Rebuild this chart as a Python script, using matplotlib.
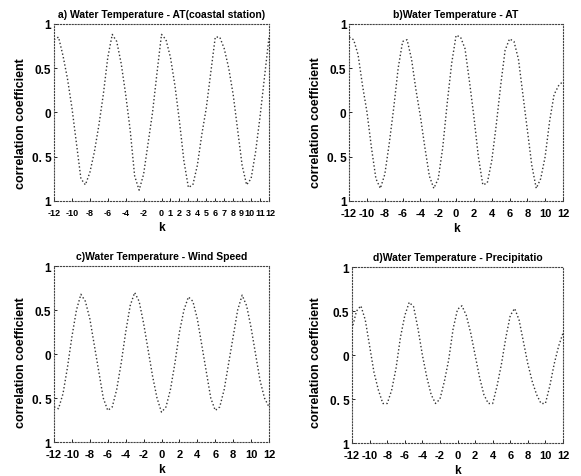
import numpy as np
import matplotlib
matplotlib.use("Agg")
import matplotlib.pyplot as plt
from matplotlib.transforms import ScaledTranslation

plt.rcParams['font.family'] = ['Liberation Sans', 'DejaVu Sans']
plt.rcParams['font.weight'] = 'bold'

# lag values (half-step)
lags = np.arange(-12, 12.5, 0.5)

# a) water temperature vs air temperature (coastal station)
corr_a = [0.82, 0.85, 0.64, 0.38, 0.05, -0.35, -0.75, -0.82, -0.68, -0.45,
          -0.15, 0.20, 0.62, 0.88, 0.80, 0.55, 0.20, -0.20, -0.72, -0.88,
          -0.70, -0.35, 0.00, 0.45, 0.88, 0.82, 0.62, 0.30, -0.10, -0.55,
          -0.85, -0.82, -0.60, -0.25, 0.05, 0.45, 0.85, 0.85, 0.72, 0.50,
          0.20, -0.20, -0.60, -0.82, -0.75, -0.45, -0.05, 0.40, 0.85]

# b) water temperature vs air temperature
corr_b = [0.85, 0.82, 0.65, 0.30, 0.00, -0.40, -0.75, -0.86, -0.70, -0.35,
          0.05, 0.50, 0.80, 0.82, 0.60, 0.25, -0.05, -0.40, -0.72, -0.86,
          -0.75, -0.40, 0.10, 0.55, 0.87, 0.85, 0.72, 0.35, -0.05, -0.50,
          -0.82, -0.80, -0.55, -0.15, 0.30, 0.70, 0.83, 0.80, 0.60, 0.20,
          -0.20, -0.60, -0.86, -0.75, -0.50, -0.10, 0.20, 0.30, 0.35]

# c) water temperature vs wind speed
corr_c = [-0.60, -0.62, -0.45, -0.15, 0.20, 0.50, 0.68, 0.60, 0.40, 0.10,
          -0.20, -0.50, -0.64, -0.60, -0.40, -0.10, 0.25, 0.55, 0.70, 0.60,
          0.35, 0.05, -0.25, -0.50, -0.66, -0.60, -0.40, -0.10, 0.25, 0.50,
          0.65, 0.60, 0.40, 0.10, -0.20, -0.50, -0.64, -0.60, -0.40, -0.10,
          0.20, 0.50, 0.67, 0.55, 0.30, 0.00, -0.30, -0.50, -0.60]

# d) water temperature vs precipitation
corr_d = [0.30, 0.50, 0.56, 0.40, 0.10, -0.20, -0.40, -0.55, -0.55, -0.40,
          -0.15, 0.20, 0.45, 0.60, 0.55, 0.30, 0.00, -0.25, -0.45, -0.55,
          -0.50, -0.30, -0.05, 0.30, 0.52, 0.56, 0.45, 0.25, 0.00, -0.25,
          -0.45, -0.55, -0.55, -0.35, -0.10, 0.20, 0.45, 0.53, 0.40, 0.15,
          -0.10, -0.30, -0.45, -0.55, -0.55, -0.35, -0.10, 0.10, 0.25]

titles = ["a) Water Temperature - AT(coastal station)",
          "b)Water Temperature - AT",
          "c)Water Temperature - Wind Speed",
          "d)Water Temperature - Precipitatio"]

xticks_a = [-12, -10, -8, -6, -4, -2, 0, 1, 2, 3, 4, 5, 6, 7, 8, 9, 10, 11, 12]
xticks_even = list(range(-12, 13, 2))
yticks = [1, 0.5, 0, -0.5, -1]
ytick_labels = ["1", "0.5", "0", "0. 5", "1"]

fig = plt.figure(figsize=(5.81, 4.77), dpi=100)

positions = [[0.093, 0.577, 0.370, 0.371],
             [0.601, 0.577, 0.368, 0.371],
             [0.093, 0.071, 0.370, 0.369],
             [0.606, 0.069, 0.363, 0.369]]
ylabel_xy = [(-0.125, 0.44), (-0.126, 0.445), (-0.125, 0.46), (-0.142, 0.465)]
series = [corr_a, corr_b, corr_c, corr_d]
xtick_sets = [xticks_a, xticks_even, xticks_even, xticks_even]
xtick_sizes = [6.5, 8, 8, 8]

axes = []
for pos, vals, title, xt, xs, lxy in zip(positions, series, titles, xtick_sets,
                                         xtick_sizes, ylabel_xy):
    ax = fig.add_axes(pos)
    ax.plot(lags, vals, linestyle=':', color='#333333', linewidth=1.0)
    ax.set_xlim(-12, 12)
    ax.set_ylim(-1, 1)
    ax.set_xticks(xt)
    ax.set_xticklabels([str(v) for v in xt], fontsize=xs, fontweight='bold')
    ax.set_yticks(yticks)
    ax.set_yticklabels(ytick_labels, fontsize=8.5, fontweight='bold')
    ax.tick_params(direction='in', length=2, width=0.6)
    ax.tick_params(axis='x', pad=5)
    ax.tick_params(axis='y', pad=2)
    for sp in ax.spines.values():
        sp.set_linestyle(':')
        sp.set_linewidth(0.8)
        sp.set_color('#444444')
    ax.set_title(title, fontsize=7.5, fontweight='bold', pad=5)
    ax.set_xlabel('k', fontsize=8.5, fontweight='bold', labelpad=3)
    ax.set_ylabel('correlation coefficient', fontsize=9, fontweight='bold')
    ax.yaxis.set_label_coords(*lxy)
    axes.append(ax)

# spread the crowded last labels of panel a a little (pixels)
nudge = {8: -0.3, 9: -0.7, 10: -1.5, 12: 1.6}
for lab, v in zip(axes[0].get_xticklabels(), xticks_a):
    if v in nudge:
        lab.set_transform(lab.get_transform() +
                          ScaledTranslation(nudge[v] / 100, 0, fig.dpi_scale_trans))

fig.savefig('out.png', dpi=100)
